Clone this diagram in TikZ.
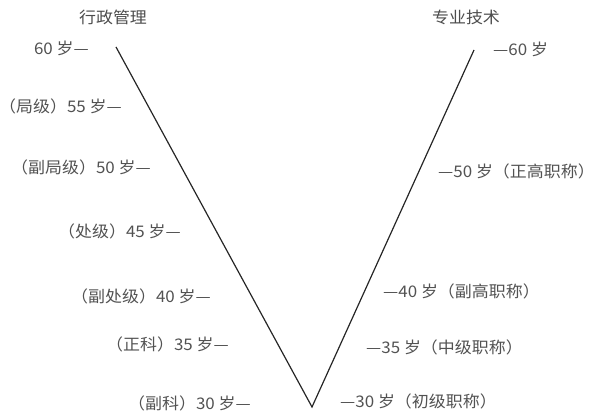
\documentclass[tikz,border=0pt]{standalone}
\usepackage{fontspec}
\setmainfont{Noto Sans CJK SC}
\usetikzlibrary{positioning}

\begin{document}
\begin{tikzpicture}[x=1pt, y=1pt,
  agelbl/.style={inner sep=0pt, text=black!68, font=\fontsize{16}{18}\selectfont, xscale=1.06, transform shape},
  titlelbl/.style={inner sep=0pt, text=black!70, font=\fontsize{16}{18}\selectfont, xscale=1.06, transform shape},
  vline/.style={black!85, line width=1.2pt}]
\useasboundingbox (0,0) rectangle (594,414);

% the V
\coordinate (lt) at (116,367);
\coordinate (bot) at (312,7);
\coordinate (rt) at (474,364);
\draw[vline] (lt) -- (bot) -- (rt);

% titles
\node[titlelbl] (admin) at (113,397) {行政管理};
\node[titlelbl] (tech) at (466,397) {专业技术};

% left side
\node[agelbl, anchor=east] (l60) at (89,366) {60 岁—};
\node[agelbl, anchor=east] (l55) at (122,308) {（局级）55 岁—};
\node[agelbl, anchor=east] (l50) at (151,247) {（副局级）50 岁—};
\node[agelbl, anchor=east] (l45) at (181,183) {（处级）45 岁—};
\node[agelbl, anchor=east] (l40) at (211,118) {（副处级）40 岁—};
\node[agelbl, anchor=east] (l35) at (229,70) {（正科）35 岁—};
\node[agelbl, anchor=east] (l30) at (251,11) {（副科）30 岁—};

% right side
\node[agelbl, anchor=west] (r60) at (493,365) {—60 岁};
\node[agelbl, anchor=west] (r50) at (438,243) {—50 岁（正高职称）};
\node[agelbl, anchor=west] (r40) at (383,123) {—40 岁（副高职称）};
\node[agelbl, anchor=west] (r35) at (366,67) {—35 岁（中级职称）};
\node[agelbl, anchor=west] (r30) at (340,13) {—30 岁（初级职称）};
\end{tikzpicture}
\end{document}
